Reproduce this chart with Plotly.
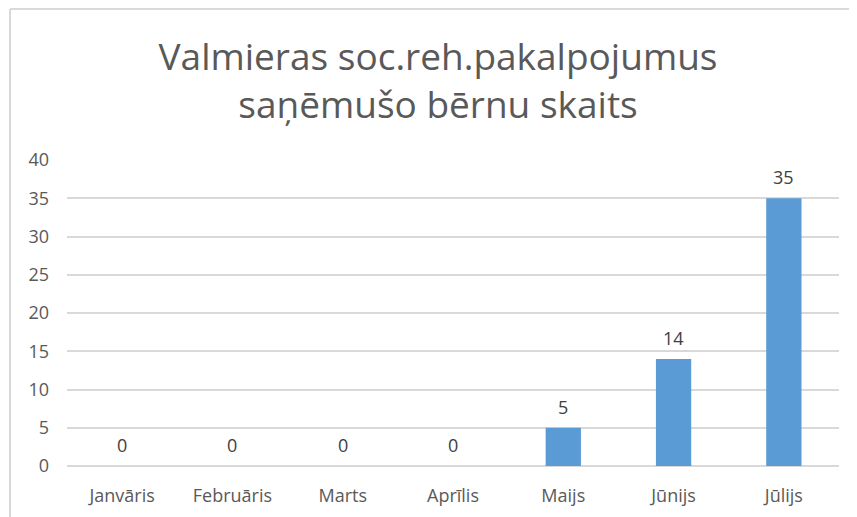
import plotly.graph_objects as go

months = ["Janvāris", "Februāris", "Marts", "Aprīlis", "Maijs", "Jūnijs", "Jūlijs"]
counts = [0, 0, 0, 0, 5, 14, 35]
title_lines = ["Valmieras soc.reh.pakalpojumus", "saņēmušo bērnu skaits"]
y_ticks = [0, 5, 10, 15, 20, 25, 30, 35, 40]

FONT = "Open Sans"
TXT = "#595959"
GRID = "#d9d9d9"

# page has an 8px body margin; figure is sized to fit the window.
W, H = 841, 509
# plot area target (page px): x 67..839, y 160..466
L, R, T, B = 59, 10, 152, 51
PW, PH = W - L - R, H - T - B

fig = go.Figure()
fig.add_trace(go.Bar(
    x=months, y=counts, width=0.32,
    marker=dict(color="#5B9BD5", line=dict(width=0)),
    hoverinfo="x+y",
))

for m, v in zip(months, counts):
    fig.add_annotation(x=m, y=v, text=str(v), showarrow=False,
                       yanchor="middle", yshift=21,
                       font=dict(family=FONT, size=18, color="#404040"))

bx = (2 - L) / PW          # frame left edge at page x 10
by = (PH + T - 1) / PH     # frame top edge at page y 9

fig.update_layout(
    width=W, height=H,
    margin=dict(l=L, r=R, t=T, b=B, autoexpand=False),
    paper_bgcolor="white", plot_bgcolor="white",
    showlegend=False,
    title=dict(text="<br>".join(title_lines), x=(438 - 8) / W, xanchor="center",
               xref="container", y=1 - 62 / H, yanchor="top",
               font=dict(family=FONT, size=37, color=TXT)),
    xaxis=dict(showgrid=False, showline=False, zeroline=False, automargin=False,
               tickfont=dict(family=FONT, size=18, color=TXT),
               ticklabelstandoff=17, fixedrange=True),
    yaxis=dict(range=[0, 40], tickvals=y_ticks, showgrid=True, gridcolor=GRID,
               gridwidth=2, zeroline=True, zerolinecolor=GRID, zerolinewidth=2,
               showline=False, automargin=False,
               tickfont=dict(family=FONT, size=18, color=TXT),
               ticklabelstandoff=17, fixedrange=True),
    shapes=[
        dict(type="line", xref="paper", yref="paper", x0=bx, x1=bx, y0=-0.3, y1=by,
             line=dict(color=GRID, width=2), layer="above"),
        dict(type="line", xref="paper", yref="paper", x0=bx, x1=1.2, y0=by, y1=by,
             line=dict(color=GRID, width=2), layer="above"),
    ],
)

fig.write_html("out.html")
